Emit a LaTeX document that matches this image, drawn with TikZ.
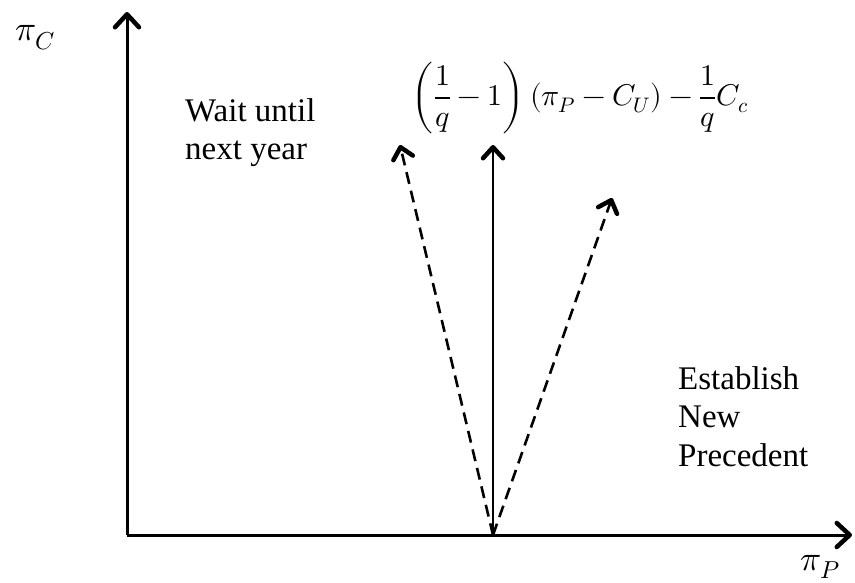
\documentclass[tikz,border=0pt]{standalone}
\usepackage{fontspec}
\usepackage{unicode-math}
\setmainfont{Liberation Serif}
\setmathfont{Latin Modern Math}
\usetikzlibrary{arrows.meta}
\begin{document}
\begin{tikzpicture}[x=1pt,y=-1pt,
  axis/.style={line width=3pt,-{Straight Barb[length=13pt,width=24pt,line width=4.5pt,round]}},
  vec/.style={line width=2.6pt,-{Straight Barb[length=11pt,width=20pt,line width=4.5pt,round]}},
  dashvec/.style={vec,dash pattern=on 12pt off 7pt},
  lbl/.style={font=\fontsize{33}{38.5}\selectfont,align=left,inner sep=0pt},
  mlbl/.style={font=\fontsize{30}{36}\selectfont,inner sep=0pt},
  plbl/.style={font=\fontsize{35}{40}\selectfont,inner sep=0pt}]
\useasboundingbox (0,0) rectangle (855,582);
\coordinate (O) at (127,535);
\coordinate (ytop) at (127,12);
\coordinate (xend) at (852,535);
\coordinate (B) at (493,535);
\coordinate (S) at (493,145);
\coordinate (L) at (400,145);
\coordinate (R) at (612,198);
\draw[axis] (O) -- (ytop);
\draw[axis] (O) -- (xend);
\draw[vec] (B) -- (S);
\draw[dashvec] (B) -- (L);
\draw[dashvec] (B) -- (R);
\node[plbl] (pc) at (35,38) {$\pi_C$};
\node[plbl] (pp) at (820,567) {$\pi_P$};
\node[mlbl] (f) at (580,98) {$\displaystyle \left(\frac{1}{q}-1\right)(\pi_P-C_U)-\frac{1}{q}C_c$};
\node[lbl,anchor=north west] (w) at (185,98) {Wait until\\next year};
\node[lbl,anchor=north west] (e) at (678,366) {Establish\\New\\Precedent};
\end{tikzpicture}
\end{document}
